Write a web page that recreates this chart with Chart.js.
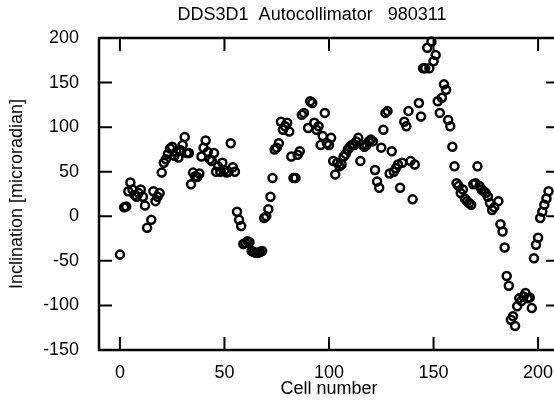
<!DOCTYPE html>
<html><head><meta charset="utf-8">
<script src="https://cdn.jsdelivr.net/npm/chart.js@4.4.1/dist/chart.umd.min.js"></script>
<style>html,body{margin:0;padding:0;background:#fff;overflow:hidden;width:554px;height:400px}canvas{display:block}</style>
</head><body>
<canvas id="c" width="580" height="400"></canvas>
<script>
const titleText = 'DDS3D1  Autocollimator   980311';
const xTitle = 'Cell number';
const yTitle = 'Inclination [microradian]';
const xTickValues = [0, 50, 100, 150, 200];
const yTickValues = [-150, -100, -50, 0, 50, 100, 150, 200];
const cells = [0,2,3,4,5,6,7,8,9,10,11,12,13,15,16,17,18,19,20,21,22,23,24,25,26,27,28,29,30,31,32,33,34,35,36,37,38,39,40,41,42,43,44,45,46,47,48,49,50,51,52,53,54,55,56,57,58,59,60,61,62,63,64,65,66,67,68,69,70,71,72,73,74,75,76,77,78,79,80,81,82,83,84,85,86,87,88,90,91,92,93,94,95,96,97,98,99,100,101,102,103,104,105,106,107,108,109,110,111,112,113,114,115,116,117,118,119,120,121,122,123,124,125,126,127,128,129,130,131,132,133,134,135,136,137,138,139,140,141,143,144,145,146,147,148,149,150,151,152,153,154,155,156,157,158,159,160,161,162,163,164,165,166,167,168,169,170,171,172,173,174,175,176,177,178,179,181,182,183,184,185,186,187,188,189,190,191,192,193,194,195,196,197,198,199,200,201,202,203,204,205];
const inclination = [-43,10,11,28,38,30,24,22,26,30,22,12,-13,-4,28,17,22,26,49,60,64,70,76,78,68,72,66,74,80,89,71,71,36,49,45,44,48,67,77,85,72,64,62,71,50,56,50,60,52,49,50,82,55,50,5,-4,-11,-31,-30,-28,-29,-39,-40,-41,-41,-40,-39,-2,0,8,22,43,75,77,82,106,97,101,105,95,67,43,43,69,73,114,116,99,129,127,105,97,101,80,90,116,82,80,88,62,47,60,56,58,67,70,75,78,80,80,84,88,62,80,78,80,84,86,84,52,39,32,77,97,116,118,48,73,50,54,58,32,60,106,101,118,62,19,58,127,112,166,166,189,166,196,174,181,129,116,133,148,142,108,101,78,56,37,34,26,30,20,17,15,13,36,37,56,34,30,28,26,22,15,7,10,17,-9,-17,-35,-67,-78,-116,-112,-123,-101,-92,-95,-90,-86,-92,-91,-103,-47,-32,-24,-2,5,13,20,28];

const points = cells.map((c, i) => ({x: c, y: inclination[i]}));
const FONT = '"Liberation Sans", Arial, Helvetica, sans-serif';
Chart.defaults.font.family = FONT;
Chart.defaults.font.size = 18;
Chart.defaults.color = '#000';

const framePlugin = {
  id: 'frame',
  beforeDatasetsDraw(chart) {
    const {ctx, chartArea: a, scales: {x, y}} = chart;
    ctx.save();
    ctx.strokeStyle = '#000';
    ctx.lineWidth = 2.5;
    ctx.strokeRect(a.left, a.top, a.right - a.left, a.bottom - a.top);
    ctx.lineWidth = 2;
    const L = 13;
    ctx.beginPath();
    xTickValues.forEach(v => {
      const p = x.getPixelForValue(v);
      ctx.moveTo(p, a.bottom); ctx.lineTo(p, a.bottom - L);
      ctx.moveTo(p, a.top); ctx.lineTo(p, a.top + L);
    });
    yTickValues.forEach(v => {
      const p = y.getPixelForValue(v);
      ctx.moveTo(a.left, p); ctx.lineTo(a.left + L, p);
      ctx.moveTo(a.right, p); ctx.lineTo(a.right - L, p);
    });
    ctx.stroke();
    ctx.restore();
  }
};
const titlePlugin = {
  id: 'mytitle',
  afterDraw(chart) {
    const ctx = chart.ctx;
    ctx.save();
    ctx.font = '18px ' + FONT;
    ctx.fillStyle = '#000';
    ctx.textAlign = 'center';
    ctx.textBaseline = 'middle';
    ctx.fillText(titleText, 312, 15);
    ctx.restore();
  }
};

new Chart(document.getElementById('c'), {
  type: 'scatter',
  data: { datasets: [{
    data: points,
    pointStyle: 'circle',
    pointRadius: 4,
    pointBorderWidth: 2.5,
    pointBorderColor: '#000',
    pointBackgroundColor: 'rgba(0,0,0,0)',
    clip: false
  }]},
  options: {
    responsive: false,
    animation: false,
    devicePixelRatio: 1,
    layout: { padding: { left: 0, right: 21, top: 38, bottom: 0 } },
    plugins: { legend: { display: false }, tooltip: { enabled: false }, title: { display: false } },
    scales: {
      x: {
        type: 'linear', min: -10, max: 210,
        afterBuildTicks: s => { s.ticks = xTickValues.map(v => ({value: v})); },
        afterFit: s => { s.height = 50; },
        grid: { display: false }, border: { display: false },
        ticks: { padding: 4, maxRotation: 0, color: '#000' },
        title: { display: true, text: xTitle, color: '#000', padding: { top: 0, bottom: 0 } }
      },
      y: {
        type: 'linear', min: -150, max: 200,
        afterBuildTicks: s => { s.ticks = yTickValues.map(v => ({value: v})); },
        afterFit: s => { s.width = 99; },
        grid: { display: false }, border: { display: false },
        ticks: { padding: 12, color: '#000' },
        title: { display: true, text: yTitle, color: '#000', padding: { top: 6, bottom: 0 } }
      }
    }
  },
  plugins: [framePlugin, titlePlugin]
});
</script>
</body></html>
